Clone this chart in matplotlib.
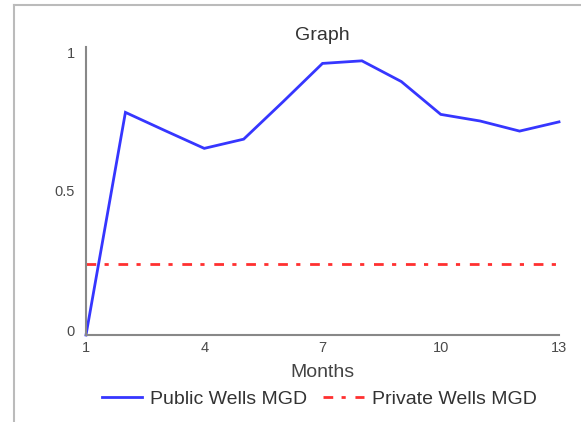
import matplotlib

matplotlib.use("Agg")
import matplotlib.pyplot as plt
import matplotlib.transforms as mtransforms
from matplotlib.lines import Line2D

plt.rcParams["font.family"] = ["Liberation Sans", "DejaVu Sans"]

months = [1, 2, 3, 4, 5, 6, 7, 8, 9, 10, 11, 12, 13]
public_wells = [0.0, 0.773, 0.71, 0.648, 0.68, 0.81, 0.943, 0.952, 0.88, 0.766, 0.743, 0.708, 0.74]
private_wells = [0.246] * len(months)
x_ticks = [1, 4, 7, 10, 13]
y_ticks = [0, 0.5, 1]
y_tick_labels = ["0", "0.5", "1"]

W, H = 581, 422
fig = plt.figure(figsize=(W / 100, H / 100), dpi=100)
ax = fig.add_axes([86 / W, 1 - 335 / H, (559 - 86) / W, (335 - 47) / H])

ax.plot(months, public_wells, color="#3636ff", linewidth=2, label="Public Wells MGD",
        solid_joinstyle="miter", clip_on=False)
ax.plot(months, private_wells, color="#ff3030", linewidth=2,
        dashes=(3.5, 3.0, 1.5, 3.5), label="Private Wells MGD")

ax.set_xlim(1, 13)
ax.set_ylim(0, 1)
ax.set_xticks(x_ticks)
ax.set_yticks(y_ticks)
ax.set_yticklabels(y_tick_labels)
ax.tick_params(length=0, labelsize=10.5, colors="#4a4a4a")
ax.tick_params(axis="y", pad=8)
ax.tick_params(axis="x", pad=4)

# nudge the end labels of the value axis inwards
shifts = {"0": 4, "1": -6}
for lbl in ax.get_yticklabels():
    dy = shifts.get(lbl.get_text(), 0)
    lbl.set_transform(lbl.get_transform()
                      + mtransforms.ScaledTranslation(0, dy / 100, fig.dpi_scale_trans))

for side in ["top", "right"]:
    ax.spines[side].set_visible(False)
for side in ["left", "bottom"]:
    ax.spines[side].set_color("#888888")
    ax.spines[side].set_linewidth(1.5)

ax.set_title("Graph", fontsize=14, color="#333333", pad=5)
ax.set_xlabel("Months", fontsize=14, color="#444444", labelpad=7)

fig.legend(loc="center", bbox_to_anchor=(319 / W, 1 - 399 / H), ncol=2, frameon=False,
           fontsize=14, handlelength=2.1, columnspacing=0.8, handletextpad=0.4,
           labelcolor="#333333")

# outer panel frame (only top and left edges are visible)
fig.add_artist(Line2D([14 / W, 14 / W], [0, 1 - 5 / H], color="#bbbbbb", linewidth=1.5))
fig.add_artist(Line2D([14 / W, 1], [1 - 5 / H, 1 - 5 / H], color="#bbbbbb", linewidth=1.5))

fig.savefig("out.png", dpi=100)
